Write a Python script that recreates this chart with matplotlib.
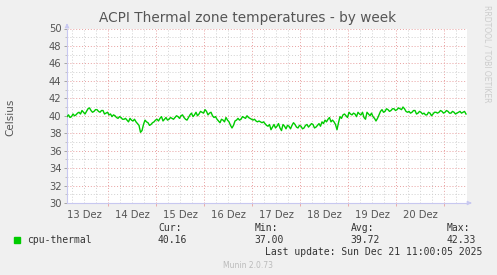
import numpy as np
import matplotlib
matplotlib.use("Agg")
import matplotlib.pyplot as plt

# Werte (Celsius), ein Wert alle 0.75 h ab 13 Dez 03:30
temps = [39.9, 40.1, 39.8, 39.9, 40.2, 40.0, 40.1, 40.3, 40.4, 40.2,
         40.6, 40.4, 40.2, 40.5, 40.8, 40.9, 40.6, 40.4, 40.5, 40.7,
         40.7, 40.5, 40.4, 40.6, 40.6, 40.2, 40.3, 40.4, 40.1, 40.2,
         39.9, 40.1, 40.0, 39.8, 39.7, 39.9, 39.8, 39.6, 39.6, 39.7,
         39.5, 39.3, 39.7, 39.5, 39.4, 39.6, 39.3, 39.1, 38.9, 38.1,
         38.3, 39.0, 39.5, 39.3, 39.2, 38.9, 39.0, 39.2, 39.3, 39.5,
         39.6, 39.4, 39.7, 39.9, 39.4, 39.6, 39.8, 39.5, 39.6, 39.8,
         39.7, 39.6, 39.8, 40.0, 39.9, 39.7, 40.0, 40.1, 39.8, 39.6,
         39.5, 39.8, 40.1, 40.3, 39.9, 40.1, 40.4, 40.0, 40.2, 40.5,
         40.4, 40.3, 40.7, 40.5, 40.1, 40.3, 40.4, 40.0, 39.8, 39.9,
         39.6, 39.4, 39.2, 39.6, 39.5, 39.3, 39.8, 39.5, 39.3, 38.9,
         38.6, 38.9, 39.4, 39.5, 39.7, 39.5, 39.6, 39.9, 39.8, 39.7,
         40.0, 39.8, 39.7, 39.6, 39.5, 39.6, 39.4, 39.3, 39.4, 39.3,
         39.2, 39.3, 39.1, 38.9, 38.8, 39.0, 38.4, 38.7, 39.0, 38.6,
         38.8, 39.1, 38.6, 38.3, 39.0, 38.8, 38.5, 38.9, 38.8, 38.5,
         38.9, 39.2, 39.0, 38.7, 38.6, 38.9, 38.8, 38.5, 38.6, 38.9,
         39.0, 38.7, 38.9, 39.1, 39.0, 38.6, 38.7, 38.9, 39.1, 38.8,
         39.3, 39.1, 39.5, 39.3, 39.6, 39.8, 39.3, 39.5, 39.3, 39.0,
         38.4, 39.2, 39.9, 39.7, 40.1, 40.2, 40.0, 39.8, 40.4, 40.2,
         40.1, 40.3, 40.2, 39.9, 40.4, 40.2, 40.1, 40.4, 39.8, 39.6,
         40.4, 40.2, 40.0, 40.3, 39.9, 39.7, 39.4, 39.7, 40.1, 40.5,
         40.7, 40.4, 40.5, 40.8, 40.7, 40.5, 40.6, 40.8, 40.8, 40.6,
         40.7, 40.9, 40.8, 40.7, 41.0, 40.8, 40.5, 40.4, 40.5, 40.3,
         40.4, 40.6, 40.6, 40.2, 40.3, 40.5, 40.4, 40.2, 40.3, 40.1,
         40.1, 40.4, 40.3, 40.0, 40.2, 40.4, 40.4, 40.3, 40.4, 40.6,
         40.5, 40.3, 40.4, 40.6, 40.5, 40.3, 40.3, 40.5, 40.4, 40.2,
         40.3, 40.4, 40.5, 40.3, 40.4, 40.5, 40.2]
t_start = 3.5   # Stunden seit 13 Dez 00:00
t_step = 0.75
day_labels = ["13 Dez", "14 Dez", "15 Dez", "16 Dez",
              "17 Dez", "18 Dez", "19 Dez", "20 Dez"]
legend_head = ["Cur:", "Min:", "Avg:", "Max:"]
legend_vals = ["40.16", "37.00", "39.72", "42.33"]

hours = t_start + t_step * np.arange(len(temps))

W, H = 497, 275
fig = plt.figure(figsize=(W / 100, H / 100), dpi=100, facecolor="#f0f0f0")
ax = fig.add_axes([67 / W, 1 - 203 / H, 400 / W, 174.5 / H])
ax.set_facecolor("white")

red = "#e8a0a0"
grey = "#d0d0d0"
dot = (0, (1, 2))

ax.set_xlim(3.5, 203.5)
ax.set_ylim(30, 50)

# senkrechte Linien: alle 6 h grau, Mitternacht rot
for h in range(6, 204, 6):
    if h % 24:
        ax.axvline(h, color=grey, lw=0.7, ls=dot, zorder=1)
    else:
        ax.axvline(h, color=red, lw=0.7, ls=dot, zorder=1)
for v in range(31, 50, 2):
    ax.axhline(v, color=grey, lw=0.7, ls=dot, zorder=1)
for v in range(32, 51, 2):
    ax.axhline(v, color=red, lw=0.7, ls=dot, zorder=1)

ax.plot(hours, temps, color="#00cc00", lw=1.0, zorder=3)

ax.set_yticks(range(30, 51, 2))
ax.set_yticks(range(31, 50, 2), minor=True)
ax.set_xticks(range(24, 204, 24))
ax.set_xticklabels([])
ax.set_xticks([12 + 24 * i for i in range(len(day_labels))], day_labels, minor=True)
ax.tick_params(axis="y", which="major", length=2, width=0.6, color="#999999",
               labelsize=7.2, labelcolor="#555555", pad=2)
ax.tick_params(axis="y", which="minor", length=1.5, width=0.6, color="#bbbbbb")
ax.tick_params(axis="x", which="major", length=2, width=0.6, color=red, direction="out")
ax.tick_params(axis="x", which="minor", length=0, labelsize=7.2,
               labelcolor="#555555", pad=5)

for s in ["top", "right"]:
    ax.spines[s].set_visible(False)
for s in ["left", "bottom"]:
    ax.spines[s].set_color("#c8c8f0")
    ax.spines[s].set_linewidth(0.8)
ax.annotate("", xy=(0, 1.03), xytext=(0, 1.0), xycoords="axes fraction",
            arrowprops=dict(arrowstyle="-|>", color="#c8c8f0", lw=0.8, mutation_scale=6))
ax.annotate("", xy=(1.012, 0), xytext=(1.0, 0), xycoords="axes fraction",
            arrowprops=dict(arrowstyle="-|>", color="#c8c8f0", lw=0.8, mutation_scale=6))

fig.text(248 / W, 1 - 18 / H, "ACPI Thermal zone temperatures - by week",
         ha="center", va="center", fontsize=9.8, color="#555555")
fig.text(10 / W, 1 - 117 / H, "Celsius", rotation=90, ha="center", va="center",
         fontsize=7.5, color="#555555")
fig.text(487 / W, 1 - 5 / H, "RRDTOOL / TOBI OETIKER", rotation=270,
         ha="center", va="top", fontsize=5.5, color="#cccccc")

mono = "DejaVu Sans Mono"
fig.patches.append(plt.Rectangle((14 / W, 1 - 243 / H), 6 / W, 6 / H,
                                 transform=fig.transFigure, color="#00cc00"))
fig.text(27 / W, 1 - 240 / H, "cpu-thermal", family=mono, fontsize=7,
         color="#333333", va="center")
for i, (hd, val) in enumerate(zip(legend_head, legend_vals)):
    x = (158 + 96.3 * i) / W
    fig.text(x, 1 - 228 / H, hd, family=mono, fontsize=7, color="#333333", va="center")
    fig.text(x, 1 - 240 / H, val, family=mono, fontsize=7, color="#333333", va="center")
fig.text(482 / W, 1 - 252 / H, "Last update: Sun Dec 21 11:00:05 2025",
         family=mono, fontsize=7, color="#333333", va="center", ha="right")
fig.text(248 / W, 1 - 265 / H, "Munin 2.0.73", fontsize=5.5, color="#bbbbbb",
         ha="center", va="center")

fig.savefig("out.png", dpi=100, facecolor=fig.get_facecolor())
